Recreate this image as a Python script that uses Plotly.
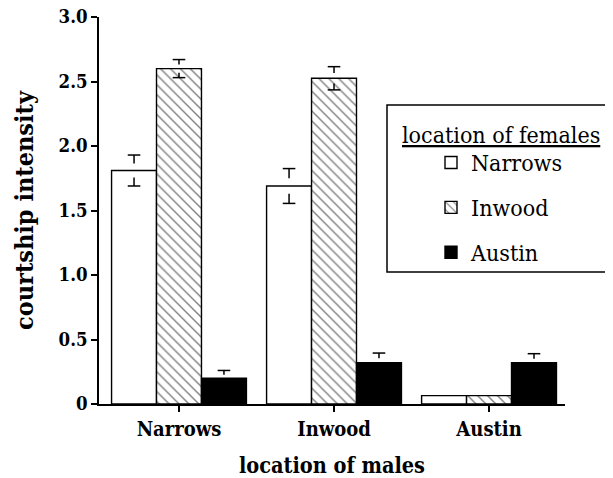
import plotly.graph_objects as go

# ---- data ----
male_locations = ["Narrows", "Inwood", "Austin"]
female_locations = ["Narrows", "Inwood", "Austin"]
intensity = {
    "Narrows": [1.81, 1.69, 0.065],
    "Inwood": [2.60, 2.525, 0.065],
    "Austin": [0.20, 0.32, 0.32],
}
sem = {
    "Narrows": [0.12, 0.135, None],
    "Inwood": [0.07, 0.09, None],
    "Austin": [0.06, 0.075, 0.07],
}
y_tickvals = [0, 0.5, 1.0, 1.5, 2.0, 2.5, 3.0]
y_ticktext = ["0", "0.5", "1.0", "1.5", "2.0", "2.5", "3.0"]

# ---- style ----
FONT = "DejaVu Serif Condensed, DejaVu Serif"
BARGAP = 0.13
bar_w = (1 - BARGAP) / 3
offsets = [-bar_w, 0.0, bar_w]
styles = {
    "Narrows": dict(color="white", pattern=dict(shape="")),
    "Inwood": dict(color="white", pattern=dict(shape="\\", fgcolor="black",
                                               bgcolor="white", size=7, solidity=0.2)),
    "Austin": dict(color="black", pattern=dict(shape="")),
}
STEM = 0.55

xs = list(range(len(male_locations)))
fig = go.Figure()
for i, fl in enumerate(female_locations):
    st = styles[fl]
    fig.add_trace(go.Bar(
        x=xs, y=intensity[fl], name=fl, legendgroup=fl,
        marker=dict(color=st["color"], pattern=st["pattern"],
                    line=dict(color="black", width=1.4)),
    ))

for i, fl in enumerate(female_locations):
    px, up, lo, stem = [], [], [], []
    for j, v in enumerate(intensity[fl]):
        e = sem[fl][j]
        if e is None:
            continue
        px.append(xs[j] + offsets[i])
        up.append(v + e)
        lo.append(v - e)
        stem.append(e * STEM)
    common = dict(mode="markers", showlegend=False, hoverinfo="skip",
                  marker=dict(symbol="line-ew", size=9,
                              line=dict(color="black", width=1.5)))
    fig.add_trace(go.Scatter(x=px, y=up, error_y=dict(type="data", array=[0]*len(stem),
                             arrayminus=stem, symmetric=False, width=0,
                             thickness=1.5, color="black"), **common))
    fig.add_trace(go.Scatter(x=px, y=lo, error_y=dict(type="data", array=stem,
                             arrayminus=[0]*len(stem), symmetric=False, width=0,
                             thickness=1.5, color="black"), **common))

# page has an 8px body margin; figure is sized to fit the window
W, H = 605, 470
L, R, T, B = 91, 48, 9, 74
PW, PH = W - L - R, H - T - B


def px2paper_x(x):
    return (x - L) / PW


def px2paper_y(y):
    return (H - B - y) / PH


fig.update_layout(
    width=W, height=H,
    margin=dict(l=L, r=R, t=T, b=B, autoexpand=False),
    paper_bgcolor="white", plot_bgcolor="white",
    barmode="group", bargap=BARGAP, bargroupgap=0,
    font=dict(family=FONT, color="black"),
    showlegend=True,
    legend=dict(x=px2paper_x(423), y=px2paper_y(133), xanchor="left", yanchor="top",
                bgcolor="rgba(0,0,0,0)", borderwidth=0,
                font=dict(family=FONT, size=23, color="black"),
                traceorder="grouped", tracegroupgap=12),
    xaxis=dict(range=[-0.516, 2.49], tickvals=xs, ticktext=male_locations,
               showline=True, linecolor="black", linewidth=1.5,
               ticks="outside", ticklen=6, tickwidth=1.5, tickcolor="black",
               showgrid=False, zeroline=False,
               tickfont=dict(family=FONT, size=20, color="black", weight="bold"),
               title=dict(text="<b>location of males</b>", standoff=21,
                          font=dict(family=FONT, size=21.5, color="black"))),
    yaxis=dict(range=[0, 3.0], tickvals=y_tickvals, ticktext=y_ticktext,
               ticklabeloverflow="allow",
               showline=True, linecolor="black", linewidth=1.5,
               ticks="outside", ticklen=6, tickwidth=1.5, tickcolor="black",
               showgrid=False, zeroline=False,
               tickfont=dict(family=FONT, size=18.5, color="black", weight="bold"),
               title=dict(text="<b>courtship intensity</b>", standoff=18,
                          font=dict(family=FONT, size=25, color="black"))),
    shapes=[dict(type="rect", xref="paper", yref="paper",
                 x0=px2paper_x(379), x1=px2paper_x(599),
                 y0=px2paper_y(264), y1=px2paper_y(97),
                 line=dict(color="black", width=1.5), fillcolor="rgba(0,0,0,0)")],
    annotations=[dict(text="<u>location of females</u>", xref="paper", yref="paper",
                      x=px2paper_x(392), y=px2paper_y(127),
                      xanchor="left", yanchor="middle", showarrow=False,
                      font=dict(family=FONT, size=23, color="black"))],
)

fig.write_html("out.html")
